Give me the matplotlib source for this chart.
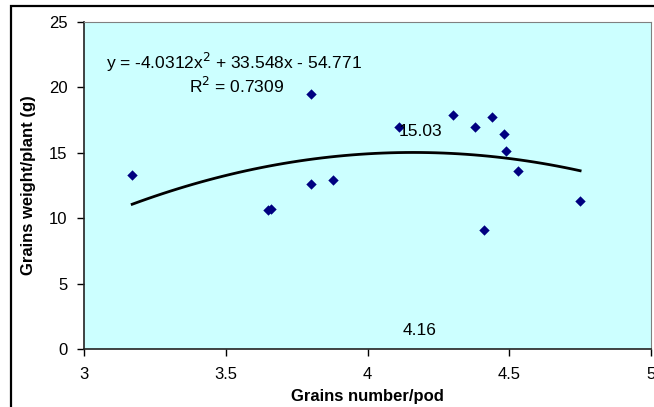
import numpy as np
import matplotlib.pyplot as plt
from matplotlib.patches import Rectangle

plt.rcParams['font.family'] = ['Liberation Sans', 'DejaVu Sans']

# data
grains_number = [3.17, 3.65, 3.66, 3.80, 3.80, 3.88, 4.11, 4.30, 4.38, 4.44, 4.48, 4.49, 4.53, 4.41, 4.75]
grains_weight = [13.3, 10.6, 10.7, 19.5, 12.6, 12.9, 17.0, 17.9, 17.0, 17.7, 16.4, 15.1, 13.6, 9.1, 11.3]
fit_coef = [-4.0312, 33.548, -54.771]
peak_x = 4.16
peak_y = 15.03

fig = plt.figure(figsize=(6.54, 4.07), dpi=100)
ax = fig.add_axes([84 / 654, 1 - 349 / 407, (651 - 84) / 654, (349 - 22) / 407])
ax.set_facecolor('#CCFFFF')

xs = np.linspace(min(grains_number), max(grains_number), 60)
ax.plot(xs, np.polyval(fit_coef, xs), color='black', lw=2, zorder=2)
ax.scatter(grains_number, grains_weight, marker='D', s=28, color='#000080', zorder=3, linewidths=0)

fs = 12.5
ax.text(3.53, 21.9, 'y = -4.0312x$^2$ + 33.548x - 54.771', ha='center', va='center', fontsize=fs)
ax.text(3.54, 20.1, 'R$^2$ = 0.7309', ha='center', va='center', fontsize=fs)
ax.text(peak_x + 0.025, 16.6, '%.2f' % peak_y, ha='center', va='center', fontsize=fs)
ax.text(peak_x + 0.025, 1.4, '%.2f' % peak_x, ha='center', va='center', fontsize=fs)

ax.set_xlim(3, 5)
ax.set_ylim(0, 25)
ax.set_xticks([3, 3.5, 4, 4.5, 5])
ax.set_xticklabels(['3', '3.5', '4', '4.5', '5'])
ax.set_yticks([0, 5, 10, 15, 20, 25])
ax.tick_params(direction='out', length=5, width=1, labelsize=12)
ax.tick_params(axis='x', pad=8)
ax.tick_params(axis='y', pad=7)
ax.set_xlabel('Grains number/pod', fontsize=12, fontweight='bold', labelpad=5)
ax.set_ylabel('Grains weight/plant (g)', fontsize=12, fontweight='bold', labelpad=9)
for s in ['top', 'right']:
    ax.spines[s].set_color('#808080')
for s in ['left', 'bottom']:
    ax.spines[s].set_color('#222222')
    ax.spines[s].set_linewidth(1.2)

fig.patches.append(Rectangle((11 / 654, -0.05), 1.1, 1 - 6 / 407 + 0.05, transform=fig.transFigure,
                             fill=False, edgecolor='black', lw=1.6, clip_on=False))

fig.savefig('out.png', dpi=100)
